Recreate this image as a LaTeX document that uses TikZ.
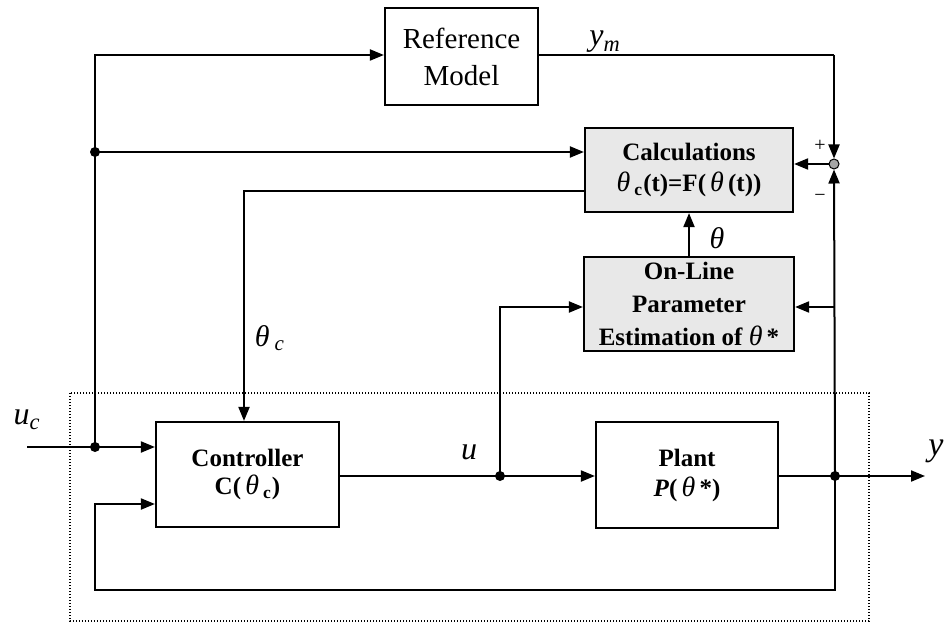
\documentclass[tikz,border=0pt]{standalone}
\usepackage{fontspec}
\setmainfont{Liberation Serif}
\usetikzlibrary{arrows.meta}
\newcommand\thet{{\mdseries\itshape\fontsize{14}{15}\selectfont θ}}
\begin{document}
\begin{tikzpicture}[x=0.5pt,y=-0.5pt,
  line width=1pt,
  arr/.style={-{Triangle[length=7pt,width=5.5pt]}},
  blk/.style={draw,line width=1.1pt,align=center,inner sep=0pt},
  gblk/.style={blk,fill=black!9},
  rfont/.style={font=\fontsize{14.5}{18.5}\selectfont},
  bfont/.style={font=\fontsize{12.5}{15.5}\selectfont\bfseries},
  lbl/.style={font=\fontsize{16}{18}\selectfont\itshape,inner sep=0pt},
  dot/.style={circle,fill=black,inner sep=0pt,minimum size=5pt}]
\useasboundingbox (0,0) rectangle (945,625);
% blocks
\node[blk,rfont,minimum width=76.5pt,minimum height=48.5pt] (ref) at (461.5,56.5) {Reference\\Model};
\node[gblk,bfont,minimum width=104pt,minimum height=42pt] (calc) at (689,170) {Calculations\\\thet\,\textsubscript{c}(t)=F(\,\thet\,(t))};
\node[gblk,bfont,font=\fontsize{12.5}{16.5}\selectfont\bfseries,minimum width=105pt,minimum height=47pt] (est) at (689,304) {On-Line\\Parameter\\Estimation of \thet\,*};
\node[blk,bfont,font=\fontsize{12.5}{14}\selectfont\bfseries,minimum width=91.5pt,minimum height=52.5pt] (ctrl) at (247.5,474.5) {Controller\\C(\,\thet\,\textsubscript{c})};
\node[blk,bfont,font=\fontsize{12.5}{15}\selectfont\bfseries,minimum width=91pt,minimum height=53pt] (plant) at (687,475) {Plant\\\textit{P}(\,\thet\,*)};
\node[circle,draw,line width=0.5pt,fill=black!35,inner sep=0pt,minimum size=5pt] (sum) at (834,164) {};
% coordinates
\coordinate (ucin) at (27,447);
\coordinate (j1) at (95,447);
\coordinate (j2) at (95,152);
\coordinate (tl) at (95,55);
\coordinate (tr) at (834,55);
\coordinate (cl) at (244,191);
\coordinate (ju) at (500,476);
\coordinate (uc2) at (500,307);
\coordinate (jy) at (835,476);
\coordinate (yout) at (925,476);
\coordinate (fb1) at (835,590);
\coordinate (fb2) at (95,590);
\coordinate (fb3) at (95,504);
\coordinate (er) at (835,307);
% dotted box
\draw[line width=0.7pt,dash pattern=on 0.7pt off 0.8pt] (70,393) rectangle (869,621);
% connectors
\draw[arr] (j1) -- (tl) -- (tl -| ref.west);
\draw (ref.east |- tl) -- (tr);
\draw[arr] (tr) -- (sum.north);
\draw[arr] (j2) -- (j2 -| calc.west);
\draw[arr] (calc.west |- cl) -- (cl) -- (cl |- ctrl.north);
\draw[arr] (sum.west) -- (sum.west -| calc.east);
\draw[arr] (est.north) -- (calc.south);
\draw[arr] (ucin) -- (ucin -| ctrl.west);
\draw (ctrl.east |- ju) -- (ju);
\draw[arr] (ju) -- (ju -| plant.west);
\draw[arr] (ju) -- (uc2) -- (uc2 -| est.west);
\draw (plant.east |- jy) -- (jy);
\draw[arr] (jy) -- (yout);
\draw[arr] (jy) -- (sum.south);
\draw[arr] (er) -- (er -| est.east);
\draw[arr] (jy) -- (fb1) -- (fb2) -- (fb3) -- (fb3 -| ctrl.west);
% dots
\node[dot] at (j1) {};
\node[dot] at (j2) {};
\node[dot] at (ju) {};
\node[dot] at (jy) {};
% labels
\node[lbl] (lym) at (605,42) {y\textsubscript{m}};
\node[lbl] (luc) at (27,420) {u\textsubscript{c}};
\node[lbl] (lu) at (469,452) {u};
\node[lbl,font=\fontsize{17}{18}\selectfont\itshape] (ly) at (936,451) {y};
\node[lbl,font=\fontsize{15}{18}\selectfont\itshape] (lth) at (717,238) {θ};
\node[lbl,font=\fontsize{15}{18}\selectfont\itshape] (lthc) at (270,338) {θ\,\textsubscript{c}};
\node[font=\fontsize{10}{12}\selectfont,inner sep=0pt] (lp) at (820,146) {+};
\node[font=\fontsize{10}{12}\selectfont,inner sep=0pt] (lm) at (820,198) {−};
\end{tikzpicture}
\end{document}
